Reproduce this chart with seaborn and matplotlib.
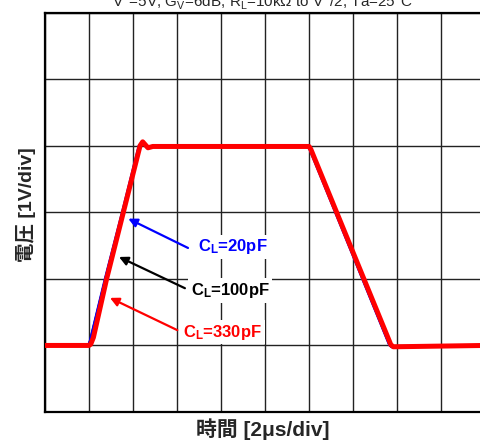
import matplotlib
matplotlib.use("Agg")
import matplotlib.pyplot as plt
import seaborn as sns
import pandas as pd

# ---- data (divisions: x = 2 us/div, y = 1 V/div) ----
t_20pF = [0, 0.99, 1.03, 1.37, 1.76, 2.14, 2.21, 2.32, 2.43, 5.98, 6.02, 7.83, 7.88, 10]
v_20pF = [1.0, 1.0, 1.07, 2.0, 3.0, 4.0, 4.05, 3.98, 3.99, 3.99, 3.95, 1.01, 0.98, 1.0]
t_100pF = [0, 0.99, 1.03, 1.38, 1.77, 2.15, 2.21, 2.33, 2.44, 5.99, 6.03, 7.84, 7.89, 10]
v_100pF = [1.0, 1.0, 1.06, 2.0, 3.0, 4.0, 4.05, 3.98, 3.99, 3.99, 3.95, 1.01, 0.98, 1.0]
t_330pF = [0, 1.00, 1.04, 1.10, 1.40, 1.78, 2.16, 2.22, 2.34, 2.45, 6.00, 6.04, 7.86, 7.92, 10]
v_330pF = [1.0, 1.0, 1.02, 1.12, 2.0, 3.0, 4.0, 4.06, 3.97, 3.99, 3.99, 3.95, 1.01, 0.98, 1.0]

labels = ["C$_{\\mathbf{L}}$=20pF", "C$_{\\mathbf{L}}$=100pF", "C$_{\\mathbf{L}}$=330pF"]
colors = ["#0000ff", "#000000", "#ff0000"]
title = "V$^{+}$=5V, G$_{V}$=6dB, R$_{L}$=10kΩ to V$^{+}$/2, Ta=25°C"
xlabel = "時間 [2μs/div]"
ylabel = "電圧 [1V/div]"

sns.set_style("white")
plt.rcParams["font.family"] = ["Liberation Sans", "Noto Sans CJK JP", "DejaVu Sans"]
plt.rcParams["mathtext.fontset"] = "custom"
plt.rcParams["mathtext.rm"] = "Liberation Sans"
plt.rcParams["mathtext.it"] = "Liberation Sans"
plt.rcParams["mathtext.bf"] = "Liberation Sans:bold"

fig = plt.figure(figsize=(4.8, 4.43), dpi=100)
ax = fig.add_axes([45 / 480, 31 / 443, 440 / 480, 399.3 / 443])

series = [
    ("100pF", t_100pF, v_100pF, colors[1], 2.2),
    ("20pF", t_20pF, v_20pF, colors[0], 2.2),
    ("330pF", t_330pF, v_330pF, colors[2], 3.6),
]
for name, t, v, c, lw in series:
    df = pd.DataFrame({"t": t, "v": v})
    sns.lineplot(data=df, x="t", y="v", ax=ax, color=c, linewidth=lw,
                 sort=False, estimator=None, zorder=3)

ax.set_xlim(0, 10)
ax.set_ylim(0, 6)
ax.set_xticks(range(0, 11))
ax.set_yticks(range(0, 7))
ax.tick_params(length=0, labelbottom=False, labelleft=False)
ax.set_xlabel("")
ax.set_ylabel("")
ax.grid(True, color="#222222", linewidth=1.0)
for s in ax.spines.values():
    s.set_color("black")
    s.set_linewidth(1.6)

# annotations
arrows = [
    ((1.893, 2.905), (3.25, 2.465), (3.477, 2.48), labels[0], colors[0]),
    ((1.682, 2.33), (3.18, 1.86), (3.31, 1.83), labels[1], colors[1]),
    ((1.477, 1.715), (3.007, 1.23), (3.136, 1.20), labels[2], colors[2]),
]
for tip, tail, tpos, lab, c in arrows:
    ax.annotate("", xy=tip, xytext=tail,
                arrowprops=dict(arrowstyle="-|>", color=c, lw=1.6,
                                mutation_scale=13, shrinkA=0, shrinkB=0),
                zorder=5)
    ax.text(tpos[0], tpos[1], lab, color=c, fontsize=12, fontweight="bold",
            ha="left", va="center", zorder=6,
            bbox=dict(facecolor="white", edgecolor="none", pad=2))

fig.text(262 / 480, 1 - 7.5 / 443, title, ha="center", va="baseline", fontsize=11)
fig.text(262.5 / 480, 1 - 429 / 443, xlabel, ha="center", va="center",
         fontsize=15, fontweight="bold")
fig.text(25.5 / 480, 1 - 205 / 443, ylabel, ha="center", va="center",
         rotation=90, fontsize=14, fontweight="bold")

fig.savefig("out.png", dpi=100)
